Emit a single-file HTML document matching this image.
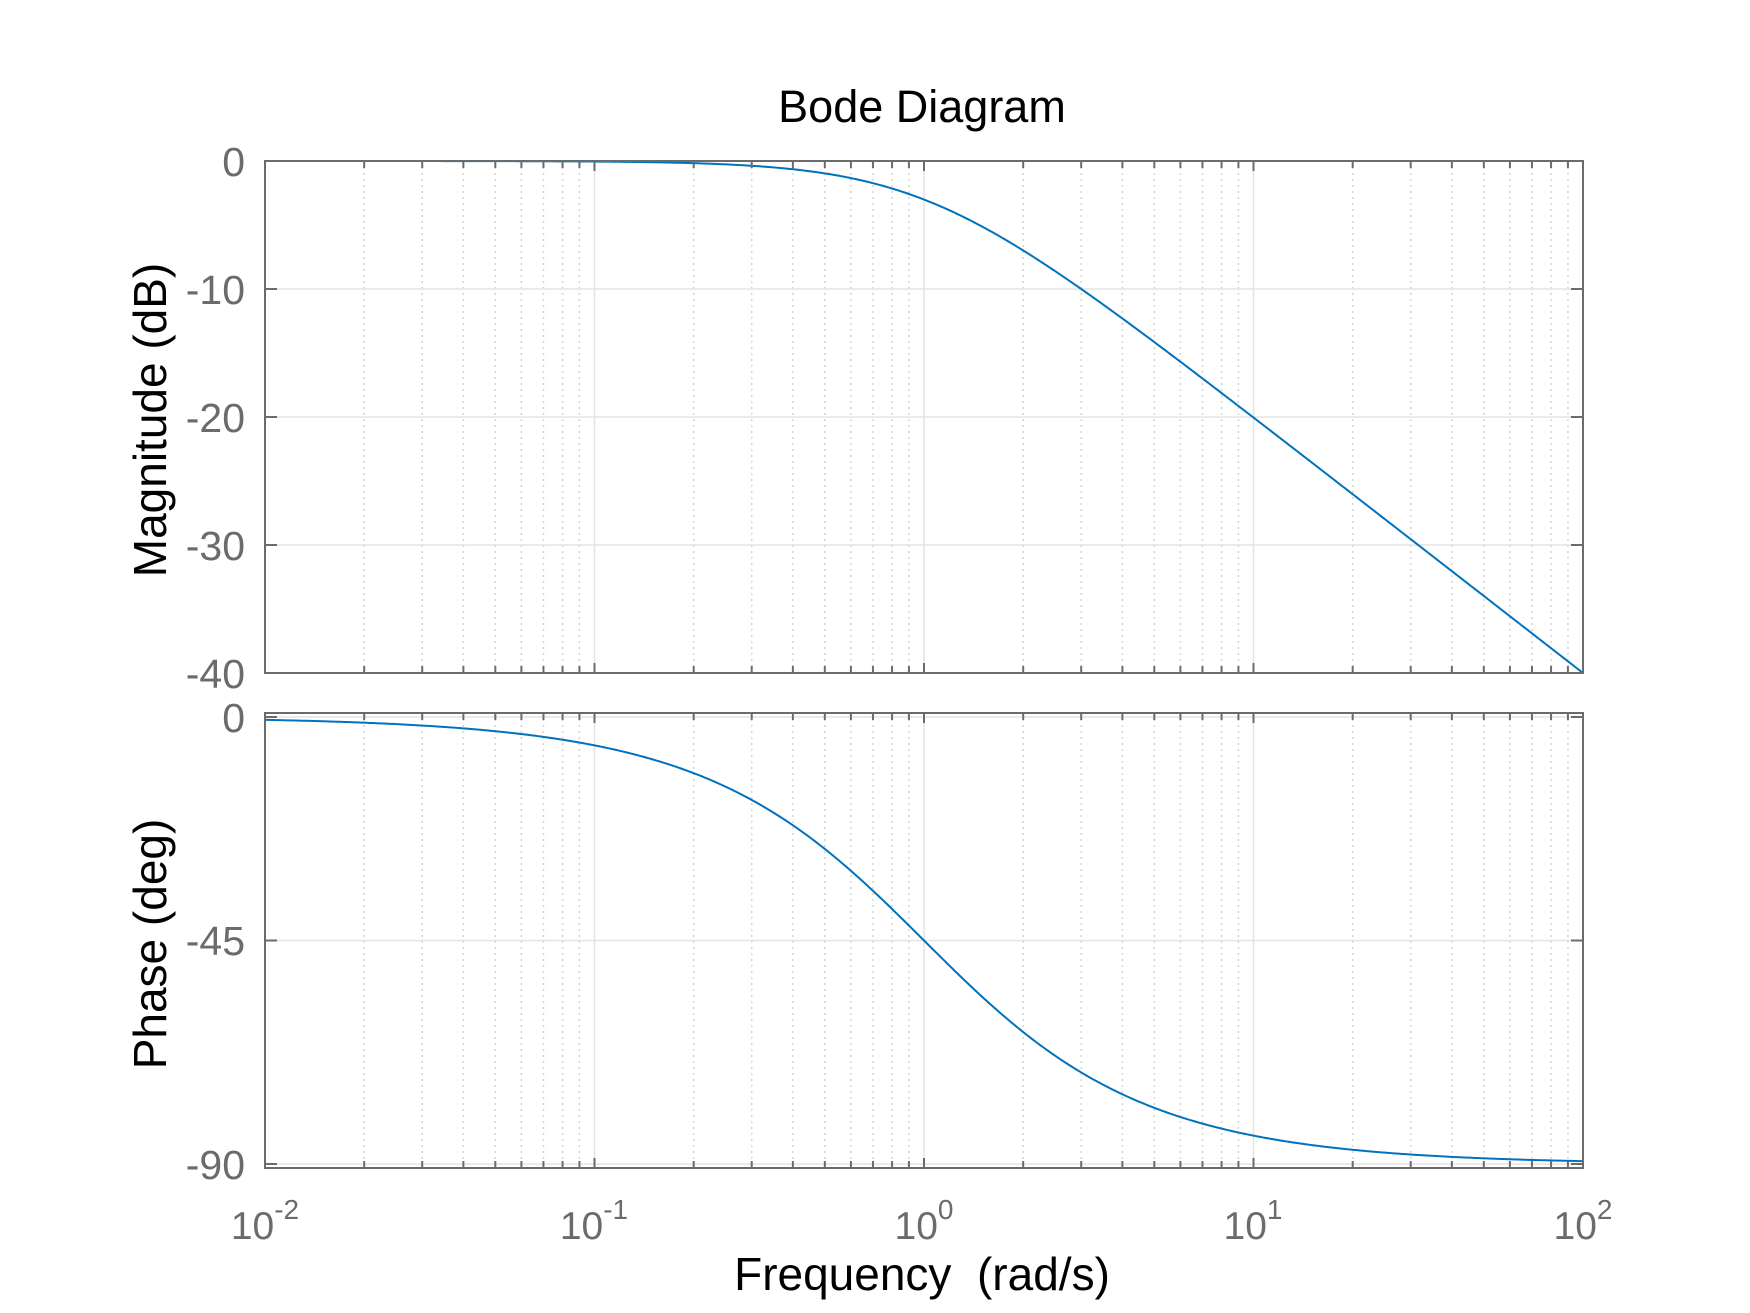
<!DOCTYPE html>
<html><head><meta charset="utf-8">
<style>
html,body{margin:0;padding:0;background:#fff;}
svg{display:block;}
text{font-family:"Liberation Sans",Arial,sans-serif;}
</style></head>
<body>
<svg id="s" width="1750" height="1313" viewBox="0 0 1750 1313" xmlns="http://www.w3.org/2000/svg">
<rect width="1750" height="1313" fill="#fff"/>
<g id="grid"></g>
<path id="mag" fill="none" stroke="#0072BD" stroke-width="2"/>
<path id="ph" fill="none" stroke="#0072BD" stroke-width="2"/>
<g id="axes" fill="none" stroke="#6b6b6b" stroke-width="2"></g>
<text x="922" y="122" font-size="45" text-anchor="middle" fill="#000">Bode Diagram</text>
<g font-size="41" fill="#6b6b6b" text-anchor="end">
<text x="245" y="176">0</text>
<text x="245" y="304">-10</text>
<text x="245" y="432">-20</text>
<text x="245" y="560">-30</text>
<text x="245" y="688">-40</text>
<text x="245" y="732">0</text>
<text x="245" y="955">-45</text>
<text x="245" y="1179">-90</text>
</g>
<g font-size="39" fill="#6b6b6b" text-anchor="middle">
<text x="265" y="1239">10<tspan font-size="28" dy="-20">-2</tspan></text>
<text x="594" y="1239">10<tspan font-size="28" dy="-20">-1</tspan></text>
<text x="924" y="1239">10<tspan font-size="28" dy="-20">0</tspan></text>
<text x="1253" y="1239">10<tspan font-size="28" dy="-20">1</tspan></text>
<text x="1583" y="1239">10<tspan font-size="28" dy="-20">2</tspan></text>
</g>
<text x="922" y="1290" font-size="46" text-anchor="middle" fill="#000" xml:space="preserve">Frequency  (rad/s)</text>
<text transform="translate(166,420) rotate(-90)" font-size="46" text-anchor="middle" fill="#000">Magnitude (dB)</text>
<text transform="translate(166,944) rotate(-90)" font-size="46" text-anchor="middle" fill="#000">Phase (deg)</text>
</svg>
<script>
(function(){
var NS="http://www.w3.org/2000/svg";
var L=265,R=1583,W=R-L;
var mT=161,mB=673,pT=713,pB=1168;
function X(w){return L+(Math.log10(w)+2)*W/4;}
function my(d){return mT+(-d)*(mB-mT)/40;}
function py(p){return 717+(-p)*(1164-717)/90;}
var g=document.getElementById('grid'),a=document.getElementById('axes');
function ln(par,x1,y1,x2,y2,st,sw,da){var e=document.createElementNS(NS,'line');e.setAttribute('x1',x1);e.setAttribute('y1',y1);e.setAttribute('x2',x2);e.setAttribute('y2',y2);e.setAttribute('stroke',st);e.setAttribute('stroke-width',sw);if(da)e.setAttribute('stroke-dasharray',da);par.appendChild(e);}
var panels=[[mT,mB],[pT,pB]];
for(var e=-2;e<2;e++){for(var k=1;k<10;k++){var x=X(k*Math.pow(10,e));
 panels.forEach(function(p){
  if(k==1){ln(g,x,p[0],x,p[1],'#e3e3e3',1.5);}
  else{ln(g,x,p[0],x,p[1],'#d4d4d4',1.5,'2,4');}
  var t=(k==1)?10:7;
  ln(a,x,p[0],x,p[0]+t,'#6b6b6b',2);ln(a,x,p[1],x,p[1]-t,'#6b6b6b',2);
 });}}
[-10,-20,-30].forEach(function(d){var y=my(d);ln(g,L,y,R,y,'#e3e3e3',1.5);ln(a,L,y,L+12,y,'#6b6b6b',2);ln(a,R,y,R-12,y,'#6b6b6b',2);});
[0,-45,-90].forEach(function(d){var y=py(d);ln(g,L,y,R,y,'#e3e3e3',1.5);ln(a,L,y,L+12,y,'#6b6b6b',2);ln(a,R,y,R-12,y,'#6b6b6b',2);});
panels.forEach(function(p){var r=document.createElementNS(NS,'rect');r.setAttribute('x',L);r.setAttribute('y',p[0]);r.setAttribute('width',W);r.setAttribute('height',p[1]-p[0]);a.appendChild(r);});
var dm='',dp='';
for(var i=0;i<=600;i++){var lw=-2+4*i/600,w=Math.pow(10,lw);
 var m=-10*Math.log10(1+w*w),ph=-Math.atan(w)*180/Math.PI;
 var x=X(w).toFixed(2);
 dm+=(i?'L':'M')+x+','+my(m).toFixed(2);
 dp+=(i?'L':'M')+x+','+py(ph).toFixed(2);}
document.getElementById('mag').setAttribute('d',dm);
document.getElementById('ph').setAttribute('d',dp);
})();
</script>
</body></html>
